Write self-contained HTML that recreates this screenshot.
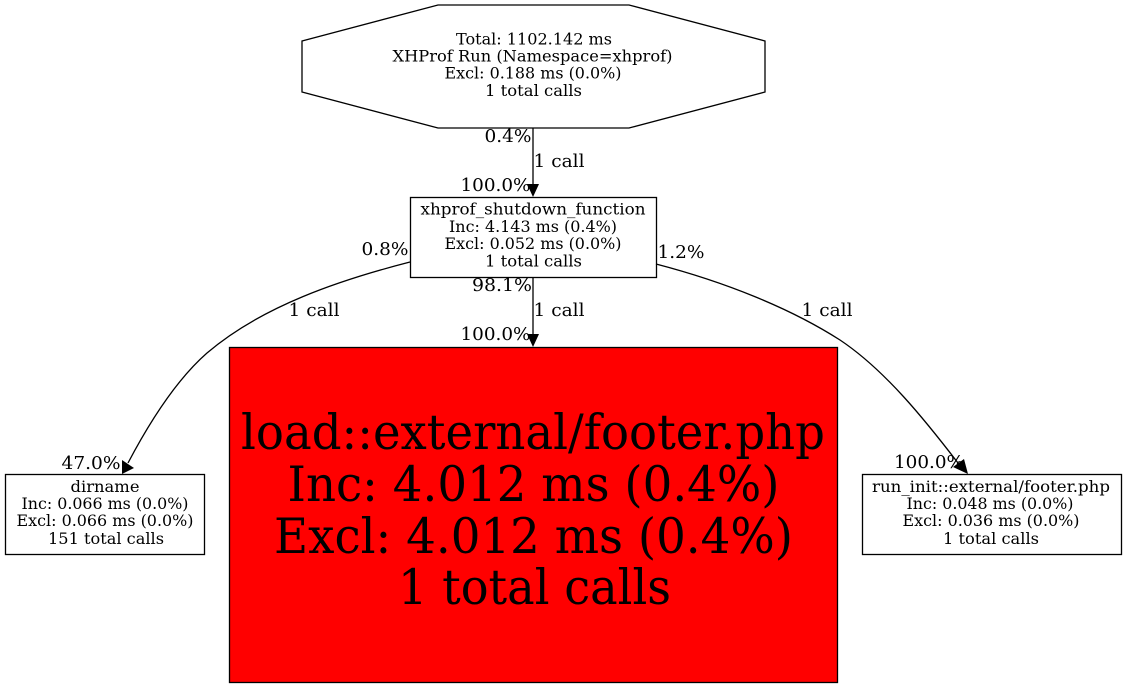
<!DOCTYPE html>
<html><head><meta charset="utf-8"><style>
html,body{margin:0;padding:0;background:#fff;width:1128px;height:688px;overflow:hidden}
svg{display:block}
text{font-family:"DejaVu Serif",serif;fill:#000;text-anchor:middle}
.n{font-size:15.5px}
.e{font-size:18px}
.b{font-size:48.5px}
</style></head><body>
<svg width="1128" height="688" viewBox="0 0 1128 688" xmlns="http://www.w3.org/2000/svg">
<rect width="1128" height="688" fill="#fff"/>
<polygon points="765,41 765,92 629,128 438,128 302,92 302,41 438,5 629,5" fill="#fff" stroke="#000" stroke-width="1.3"/>
<text class="n" x="534" y="44.5" textLength="156" lengthAdjust="spacingAndGlyphs">Total: 1102.142 ms</text>
<text class="n" x="532.5" y="61.5" textLength="280" lengthAdjust="spacingAndGlyphs">XHProf Run (Namespace=xhprof)</text>
<text class="n" x="533" y="78.5" textLength="177" lengthAdjust="spacingAndGlyphs">Excl: 0.188 ms (0.0%)</text>
<text class="n" x="533.5" y="96" textLength="97" lengthAdjust="spacingAndGlyphs">1 total calls</text>

<line x1="533" y1="128" x2="533" y2="184" stroke="#000" stroke-width="1.3"/>
<polygon points="527,184 539,184 533,197" fill="#000"/>
<text class="e" x="508" y="142" textLength="47" lengthAdjust="spacingAndGlyphs">0.4%</text>
<text class="e" x="559" y="167" textLength="51" lengthAdjust="spacingAndGlyphs">1 call</text>
<text class="e" x="495.5" y="191" textLength="70" lengthAdjust="spacingAndGlyphs">100.0%</text>

<rect x="410.5" y="197.5" width="246" height="80" fill="#fff" stroke="#000" stroke-width="1.3"/>
<text class="n" x="533" y="214.5" textLength="225" lengthAdjust="spacingAndGlyphs">xhprof_shutdown_function</text>
<text class="n" x="533" y="232" textLength="168" lengthAdjust="spacingAndGlyphs">Inc: 4.143 ms (0.4%)</text>
<text class="n" x="533" y="249" textLength="177" lengthAdjust="spacingAndGlyphs">Excl: 0.052 ms (0.0%)</text>
<text class="n" x="533.5" y="266.5" textLength="97" lengthAdjust="spacingAndGlyphs">1 total calls</text>

<line x1="533" y1="278" x2="533" y2="334" stroke="#000" stroke-width="1.3"/>
<polygon points="527,334 539,334 533,347" fill="#000"/>
<text class="e" x="502" y="291" textLength="60" lengthAdjust="spacingAndGlyphs">98.1%</text>
<text class="e" x="559" y="316" textLength="51" lengthAdjust="spacingAndGlyphs">1 call</text>
<text class="e" x="495.5" y="340" textLength="70" lengthAdjust="spacingAndGlyphs">100.0%</text>

<rect x="229.5" y="347.5" width="608" height="335" fill="#f00" stroke="#000" stroke-width="1.3"/>
<text class="b" x="533" y="449" textLength="584" lengthAdjust="spacingAndGlyphs">load::external/footer.php</text>
<text class="b" x="533.5" y="501" textLength="492" lengthAdjust="spacingAndGlyphs">Inc: 4.012 ms (0.4%)</text>
<text class="b" x="533.5" y="553" textLength="519" lengthAdjust="spacingAndGlyphs">Excl: 4.012 ms (0.4%)</text>
<text class="b" x="534.5" y="604" textLength="273" lengthAdjust="spacingAndGlyphs">1 total calls</text>

<path d="M410,262 C340,280 262,306 207,353 C175,381 148,425 128,463" fill="none" stroke="#000" stroke-width="1.3"/>
<polygon points="134,468 122,474 122,460" fill="#000"/>
<text class="e" x="385" y="255" textLength="47" lengthAdjust="spacingAndGlyphs">0.8%</text>
<text class="e" x="314" y="316" textLength="51" lengthAdjust="spacingAndGlyphs">1 call</text>
<text class="e" x="91" y="469" textLength="59" lengthAdjust="spacingAndGlyphs">47.0%</text>

<rect x="5.5" y="474.5" width="199" height="80" fill="#fff" stroke="#000" stroke-width="1.3"/>
<text class="n" x="105" y="492" textLength="69" lengthAdjust="spacingAndGlyphs">dirname</text>
<text class="n" x="105" y="509" textLength="167" lengthAdjust="spacingAndGlyphs">Inc: 0.066 ms (0.0%)</text>
<text class="n" x="105" y="526" textLength="177" lengthAdjust="spacingAndGlyphs">Excl: 0.066 ms (0.0%)</text>
<text class="n" x="106" y="544" textLength="116" lengthAdjust="spacingAndGlyphs">151 total calls</text>

<path d="M656,264 C725,282 790,308 840,340 C885,370 925,420 958,463" fill="none" stroke="#000" stroke-width="1.3"/>
<polygon points="964,459 968,474 953,467" fill="#000"/>
<text class="e" x="681" y="258" textLength="47" lengthAdjust="spacingAndGlyphs">1.2%</text>
<text class="e" x="827" y="316" textLength="51" lengthAdjust="spacingAndGlyphs">1 call</text>
<text class="e" x="929" y="468" textLength="70" lengthAdjust="spacingAndGlyphs">100.0%</text>

<rect x="862.5" y="474.5" width="259" height="80" fill="#fff" stroke="#000" stroke-width="1.3"/>
<text class="n" x="991" y="492" textLength="238" lengthAdjust="spacingAndGlyphs">run_init::external/footer.php</text>
<text class="n" x="990" y="509" textLength="167" lengthAdjust="spacingAndGlyphs">Inc: 0.048 ms (0.0%)</text>
<text class="n" x="991" y="526" textLength="177" lengthAdjust="spacingAndGlyphs">Excl: 0.036 ms (0.0%)</text>
<text class="n" x="991" y="544" textLength="96" lengthAdjust="spacingAndGlyphs">1 total calls</text>
</svg>
</body></html>
